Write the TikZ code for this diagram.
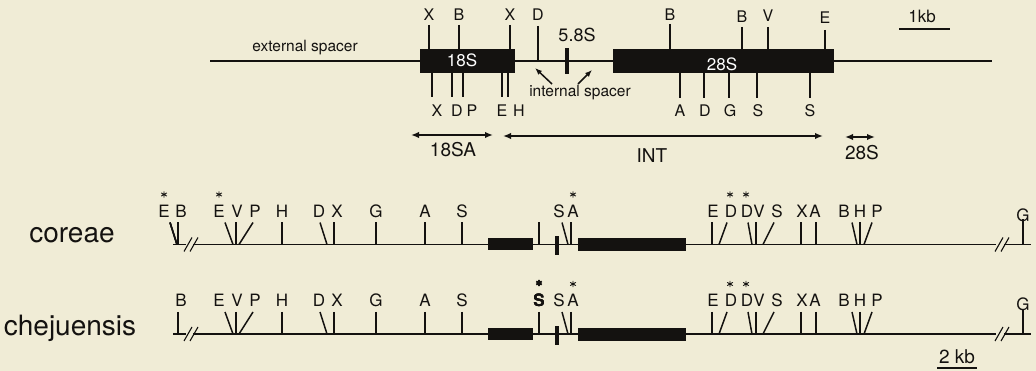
\documentclass[tikz,border=0pt]{standalone}
\usepackage{fontspec}
\setmainfont{TeX Gyre Heros}
\usetikzlibrary{arrows.meta}
\definecolor{paper}{RGB}{240,236,214}
\definecolor{ink}{RGB}{20,18,16}

% asterisk mark drawn as three crossing strokes
\newcommand\asterisk[3][]{%
  \draw[astr,#1] (#2,#3) ++(0,-3.2) -- ++(0,6.4)
                 (#2,#3) ++(-2.8,-1.6) -- ++(5.6,3.2)
                 (#2,#3) ++(-2.8,1.6) -- ++(5.6,-3.2);}

% one restriction map row: baseline at y=0, sites above it
\newcommand\maprow[1]{%
  \draw (173,0) -- (186,0);
  \draw (193,0) -- (996,0);
  \draw (1004,0) -- (1031,0);
  \draw[brk] (184,7) -- (192,-7) (190,7) -- (198,-7);
  \draw[brk] (995,7) -- (1003,-7) (1001,7) -- (1009,-7);
  \fill (488,-6) rectangle (533,6);
  \fill (578,-6.5) rectangle (686,6.5);
  \fill (555,-8) rectangle (559,11);
  \draw (178,-22) -- (178,0);
  \foreach \x in {236,282,334,376,425,462,539,571,712,756,801,816,860}
    \draw (\x,-22) -- (\x,0);
  \foreach \a/\b in {225/233,253/239,320/327,562/568,727/719,748/752,774/763,852/857,872/864}
    \draw (\a,-22) -- (\b,0);
  \draw (1023,-25) -- (1023,0);
  \node[site] (#1B) at (181,-27) {B};
  \foreach \x/\t [count=\i] in {219/E,237/V,255/P,282/H,319/D,337/X,376/G,425/A,462/S,559/S,573/A,713/E,731/D,747/D,759/V,777/S,802/X,815/A,844/B,860/H,877/P}
    \node[site] (#1s\i) at (\x,-27) {\t};
  \node[site] (#1G) at (1023,-23) {G};
  \foreach \x in {573,730,746} \asterisk{\x}{-50}
}

\begin{document}
\begin{tikzpicture}[x=1pt,y=-1pt,line width=1.5pt,color=ink,
  every node/.style={inner sep=0pt,text=ink},
  toplbl/.style={anchor=base,font=\fontsize{16}{18}\selectfont},
  site/.style={anchor=base,font=\fontsize{17}{19}\selectfont},
  astr/.style={line width=0.9pt},
  brk/.style={line width=1.1pt},
  boxlbl/.style={anchor=base,text=white,font=\fontsize{17}{19}\selectfont},
  spanlbl/.style={anchor=base,font=\fontsize{19}{21}\selectfont},
  spanarrow/.style={line width=1.8pt,{Latex[length=8pt,width=6.5pt]}-{Latex[length=8pt,width=6.5pt]}},
  pointer/.style={line width=1.5pt,-{Latex[length=7pt,width=5.5pt]}},
  species/.style={anchor=base,font=\fontsize{28}{30}\selectfont},
  scalebar/.style={line width=2pt}]

\fill[paper] (0,0) rectangle (1036,371);
\useasboundingbox (0,0) rectangle (1036,371);

% ---- repeat unit with its genes ----
\draw (210,61) -- (992,61);
\fill (420,49) rectangle (515,73);
\fill (613,49) rectangle (834,73);
\fill (565,48) rectangle (569,74);
\node[boxlbl] (g18) at (462,67) {18S};
\node[boxlbl] (g28) at (722,71) {28S};
\node[anchor=base,font=\fontsize{18}{20}\selectfont] (g58) at (577,42) {5.8S};
\node[anchor=base,font=\fontsize{15.5}{17}\selectfont] (ext) at (305,52) {external spacer};
\node[anchor=base,font=\fontsize{15.5}{17}\selectfont] (int) at (580,97) {internal spacer};

% sites above the map
\foreach \x/\y/\t/\b [count=\i] in {429/25/X/21,459/25/B/21,510/25/X/21,670/24/B/21,742/27/B/23,768/27/V/22,825/30/E/24}{
  \draw (\x,\y) -- (\x,49);
  \node[toplbl] (up\i) at (\x,\b) {\t};
}
\draw (538,26) -- (538,61);
\node[toplbl] (upD) at (538,21) {D};

% sites below the map
\foreach \x in {432,452,463,502,508} \draw (\x,73) -- (\x,97);
\foreach \x in {680,704,729,757,810} \draw (\x,73) -- (\x,98);
\foreach \x/\t [count=\i] in {437/X,457/D,472/P,502/E,519/H,680/A,705/D,730/G,758/S,810/S}
  \node[toplbl] (dn\i) at (\x,117) {\t};

% internal spacer pointers
\coordinate (p1s) at (552,84); \coordinate (p1e) at (535,68);
\coordinate (p2s) at (578,84); \coordinate (p2e) at (592,70);
\draw[pointer] (p1s) -- (p1e);
\draw[pointer] (p2s) -- (p2e);

% probe fragments
\coordinate (a1) at (411,135); \coordinate (a2) at (493,135);
\coordinate (b1) at (503,136); \coordinate (b2) at (823,136);
\coordinate (c1) at (845,137); \coordinate (c2) at (875,137);
\draw[spanarrow] (a1) -- (a2);
\draw[spanarrow] (b1) -- (b2);
\draw[spanarrow] (c1) -- (c2);
\node[spanlbl] (l18sa) at (453,157) {18SA};
\node[spanlbl] (lint) at (652,163) {INT};
\node[spanlbl] (l28s) at (862,160) {28S};

% 1 kb scale
\node[anchor=base,font=\fontsize{17}{19}\selectfont] (kb1) at (922,23) {1kb};
\draw[scalebar] (899,29) -- (950,29);

% ---- species maps ----
\node[species] (coreae) at (72,243) {coreae};
\node[species] (chej) at (70,335) {chejuensis};

\begin{scope}[yshift=-244.5pt]
  \maprow{ca}
  \draw (170,-22) -- (177,0);
  \node[site] (caE) at (164,-27) {E};
  \asterisk{164}{-50}
  \asterisk{219}{-50}
\end{scope}

\begin{scope}[yshift=-334pt]
  \maprow{cj}
  \node[site,font=\bfseries\fontsize{17}{19}\selectfont] (cjS) at (539,-27) {S};
  \fill (539,-51) circle (2.6);
  \asterisk[line width=1.6pt]{539}{-51}
\end{scope}

% 2 kb scale
\node[anchor=base,font=\fontsize{19}{21}\selectfont] (kb2) at (957,363) {2 kb};
\draw[scalebar] (937,368) -- (977,368);

\end{tikzpicture}
\end{document}
